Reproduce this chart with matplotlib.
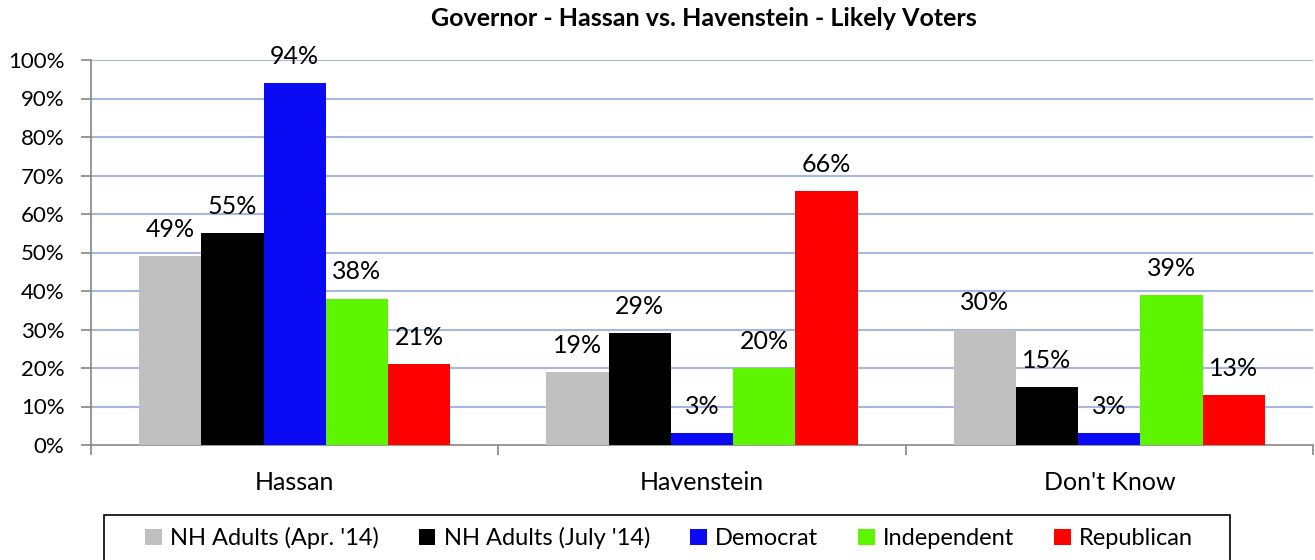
import numpy as np
import matplotlib
matplotlib.use("Agg")
import matplotlib.pyplot as plt
from matplotlib.patches import Rectangle
from matplotlib.ticker import FixedLocator, PercentFormatter

plt.rcParams['font.family'] = ['Lato', 'DejaVu Sans']

# Data
categories = ["Hassan", "Havenstein", "Don't Know"]
series_names = ["NH Adults (Apr. '14)", "NH Adults (July '14)", "Democrat", "Independent", "Republican"]
apr14 = [49, 19, 30]
july14 = [55, 29, 15]
democrat = [94, 3, 3]
independent = [38, 20, 39]
republican = [21, 66, 13]
series_values = [apr14, july14, democrat, independent, republican]
colors = ["#C0C0C0", "#000000", "#0A0AF5", "#5EF500", "#FF0000"]

W, H = 1315, 560
fig = plt.figure(figsize=(W / 100, H / 100), dpi=100)
ax = fig.add_axes([91 / W, 1 - 445 / H, (1313 - 91) / W, (445 - 60) / H])

x = np.arange(len(categories))
bar_w = 0.153
n = len(series_values)
for i, (name, vals, col) in enumerate(zip(series_names, series_values, colors)):
    pos = x + (i - (n - 1) / 2) * bar_w
    bars = ax.bar(pos, vals, width=bar_w, color=col, label=name, zorder=3)
    for b, v in zip(bars, vals):
        ax.annotate(f"{v}%", (b.get_x() + b.get_width() / 2, v),
                    xytext=(0, 11), textcoords="offset points",
                    ha="center", va="bottom", fontsize=18, color="black")

ax.set_xlim(-0.5, len(categories) - 0.5)
ax.set_ylim(0, 100)
ax.yaxis.set_major_locator(FixedLocator(np.arange(0, 101, 10)))
ax.yaxis.set_major_formatter(PercentFormatter(decimals=0))
ax.set_xticks(x)
ax.set_xticklabels(categories)
ax.xaxis.set_minor_locator(FixedLocator(np.arange(-0.5, len(categories), 1.0)))
ax.tick_params(axis="x", which="major", length=0, pad=19, labelsize=18)
ax.tick_params(axis="x", which="minor", length=7, direction="out", color="#868686", width=1.2)
ax.tick_params(axis="y", length=7, direction="out", color="#868686", width=1.2, pad=12, labelsize=16)

for y in range(10, 101, 10):
    ax.axhline(y, color="#A3B8E3", lw=1.5, zorder=1)

for s in ["top", "right"]:
    ax.spines[s].set_visible(False)
ax.spines["left"].set_color("#868686")
ax.spines["bottom"].set_color("#868686")
ax.spines["left"].set_linewidth(1.2)
ax.spines["bottom"].set_linewidth(1.2)

fig.text(704 / W, 1 - 19 / H, "Governor - Hassan vs. Havenstein - Likely Voters",
         ha="center", va="center", fontsize=18, fontweight="bold")

# legend frame (runs off the bottom edge like the original)
fig.patches.append(Rectangle((104 / W, -20 / H), (1230 - 104) / W, (20 + 45) / H,
                             transform=fig.transFigure, fill=False,
                             edgecolor="black", lw=1.2))
leg = fig.legend(loc="center left", bbox_to_anchor=(145 / W, 1 - 538 / H),
                 ncol=5, fontsize=17, frameon=False,
                 handlelength=0.7, handleheight=0.7, handletextpad=0.35,
                 columnspacing=1.7, borderaxespad=0, borderpad=0)

fig.savefig("out.png", dpi=100)
